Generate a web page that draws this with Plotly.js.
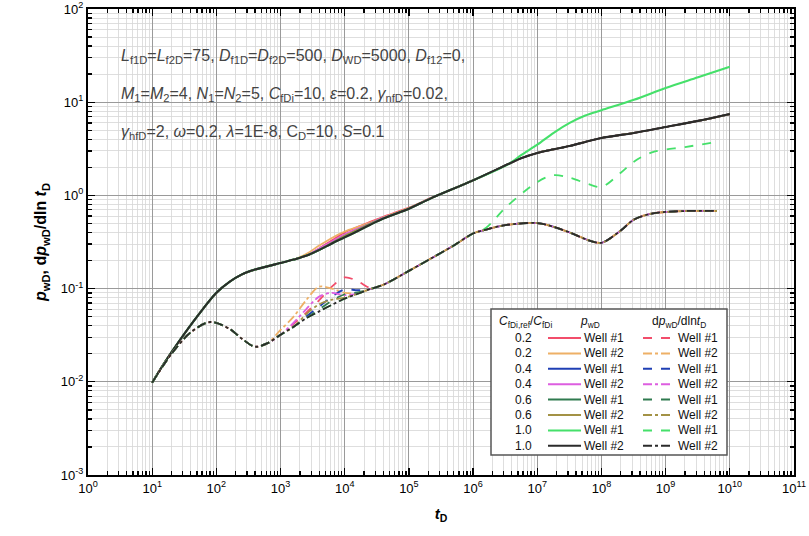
<!DOCTYPE html>
<html>
<head>
<meta charset="utf-8">
<script src="https://cdn.plot.ly/plotly-3.0.1.min.js"></script>
<style>
  html, body { margin: 0; padding: 0; background: #fff; }
  #chart { width: 809px; height: 536px; }
</style>
</head>
<body>
<div id="chart"></div>
<script>
// time grid for p_wD curves
const tP = [1e1, 1.6e1, 2.7e1, 5e1, 1e2, 1.6e2, 2.5e2, 4e2, 1e3, 1.6e3, 2.5e3, 4e3, 6.3e3, 1e4,
  1.6e4, 2.5e4, 4e4, 1e5, 2.2e5, 1e6, 3.7e6, 5.6e6, 1e7, 1.8e7, 3.2e7, 5.6e7, 1e8, 3.2e8, 1e9, 3.2e9, 1e10];

const p02w1 = [0.0098, 0.0165, 0.028, 0.05, 0.09, 0.118, 0.142, 0.16, 0.188, 0.205, 0.225, 0.27, 0.33, 0.40,
  0.46, 0.52, 0.59, 0.74, 0.94, 1.45, 2.2, 2.5, 2.85, 3.12, 3.39, 3.75, 4.13, 4.68, 5.42, 6.3, 7.46];
const p02w2 = [0.0098, 0.0165, 0.028, 0.05, 0.09, 0.118, 0.142, 0.16, 0.188, 0.205, 0.235, 0.29, 0.35, 0.41,
  0.46, 0.51, 0.58, 0.73, 0.93, 1.45, 2.2, 2.5, 2.85, 3.12, 3.39, 3.75, 4.13, 4.68, 5.42, 6.3, 7.46];
const p04w1 = [0.0098, 0.0165, 0.028, 0.05, 0.09, 0.118, 0.142, 0.16, 0.188, 0.205, 0.225, 0.26, 0.315, 0.375,
  0.435, 0.50, 0.57, 0.72, 0.93, 1.45, 2.2, 2.5, 2.85, 3.12, 3.39, 3.75, 4.13, 4.68, 5.42, 6.3, 7.46];
const p04w2 = [0.0098, 0.0165, 0.028, 0.05, 0.09, 0.118, 0.142, 0.16, 0.188, 0.205, 0.225, 0.27, 0.32, 0.38,
  0.44, 0.50, 0.575, 0.72, 0.93, 1.45, 2.2, 2.5, 2.85, 3.12, 3.39, 3.75, 4.13, 4.68, 5.42, 6.3, 7.46];
const p06w1 = [0.0098, 0.0165, 0.028, 0.05, 0.09, 0.118, 0.142, 0.16, 0.188, 0.205, 0.225, 0.26, 0.305, 0.365,
  0.425, 0.49, 0.565, 0.72, 0.93, 1.45, 2.2, 2.5, 2.85, 3.12, 3.39, 3.75, 4.13, 4.68, 5.42, 6.3, 7.46];
const p06w2 = [0.0098, 0.0165, 0.028, 0.05, 0.09, 0.118, 0.142, 0.16, 0.188, 0.205, 0.225, 0.26, 0.31, 0.37,
  0.43, 0.495, 0.565, 0.72, 0.93, 1.45, 2.2, 2.5, 2.85, 3.12, 3.39, 3.75, 4.13, 4.68, 5.42, 6.3, 7.46];
const p10w1 = [0.0098, 0.0165, 0.028, 0.05, 0.09, 0.118, 0.142, 0.16, 0.188, 0.205, 0.225, 0.26, 0.305, 0.355,
  0.415, 0.485, 0.565, 0.72, 0.93, 1.45, 2.2, 2.7, 3.5, 4.7, 6.0, 7.2, 8.2, 10.6, 14.2, 18.5, 24.0];
const p10w2 = [0.0098, 0.0165, 0.028, 0.05, 0.09, 0.118, 0.142, 0.16, 0.188, 0.205, 0.225, 0.26, 0.305, 0.355,
  0.415, 0.485, 0.565, 0.72, 0.93, 1.45, 2.2, 2.5, 2.85, 3.12, 3.39, 3.75, 4.13, 4.68, 5.42, 6.3, 7.46];

// time grid for derivative curves
const tD = [1e1, 2e1, 4e1, 8e1, 1.6e2, 2.5e2, 4e2, 6.3e2, 1e3, 1.6e3, 2.5e3, 4e3, 6.3e3, 1e4, 1.6e4, 2.5e4,
  4e4, 1e5, 2.2e5, 5e5, 1e6, 1.6e6, 3.2e6, 1e7, 1.8e7, 3.2e7, 6.3e7, 1e8, 2e8, 3.2e8, 6.3e8, 2e9, 6.3e9];

const d02w1 = [0.0098, 0.02, 0.034, 0.0438, 0.037, 0.029, 0.0238, 0.026, 0.032, 0.042, 0.055, 0.075, 0.105, 0.132,
  0.12, 0.102, 0.11, 0.155, 0.21, 0.29, 0.39, 0.43, 0.48, 0.505, 0.46, 0.40, 0.33, 0.31, 0.42, 0.55, 0.64, 0.68, 0.68];
const d02w2 = [0.0098, 0.02, 0.034, 0.0438, 0.037, 0.029, 0.0238, 0.026, 0.036, 0.05, 0.075, 0.105, 0.10, 0.09,
  0.09, 0.099, 0.11, 0.155, 0.21, 0.29, 0.39, 0.43, 0.48, 0.505, 0.46, 0.40, 0.33, 0.31, 0.42, 0.55, 0.64, 0.68, 0.68];
const d04w1 = [0.0098, 0.02, 0.034, 0.0438, 0.037, 0.029, 0.0238, 0.026, 0.032, 0.039, 0.05, 0.064, 0.082, 0.098,
  0.096, 0.099, 0.11, 0.155, 0.21, 0.29, 0.39, 0.43, 0.48, 0.505, 0.46, 0.40, 0.33, 0.31, 0.42, 0.55, 0.64, 0.68, 0.68];
const d04w2 = [0.0098, 0.02, 0.034, 0.0438, 0.037, 0.029, 0.0238, 0.026, 0.032, 0.043, 0.06, 0.082, 0.09, 0.085,
  0.089, 0.099, 0.11, 0.155, 0.21, 0.29, 0.39, 0.43, 0.48, 0.505, 0.46, 0.40, 0.33, 0.31, 0.42, 0.55, 0.64, 0.68, 0.68];
const d06w1 = [0.0098, 0.02, 0.034, 0.0438, 0.037, 0.029, 0.0238, 0.026, 0.032, 0.039, 0.048, 0.06, 0.074, 0.087,
  0.091, 0.099, 0.11, 0.155, 0.21, 0.29, 0.39, 0.43, 0.48, 0.505, 0.46, 0.40, 0.33, 0.31, 0.42, 0.55, 0.64, 0.68, 0.68];
const d06w2 = [0.0098, 0.02, 0.034, 0.0438, 0.037, 0.029, 0.0238, 0.026, 0.032, 0.039, 0.053, 0.068, 0.076, 0.08,
  0.088, 0.099, 0.11, 0.155, 0.21, 0.29, 0.39, 0.43, 0.48, 0.505, 0.46, 0.40, 0.33, 0.31, 0.42, 0.55, 0.64, 0.68, 0.68];
const d10w1 = [0.0098, 0.02, 0.034, 0.0438, 0.037, 0.029, 0.0238, 0.026, 0.032, 0.039, 0.048, 0.057, 0.067, 0.078,
  0.088, 0.099, 0.11, 0.155, 0.21, 0.29, 0.39, 0.45, 0.74, 1.39, 1.65, 1.55, 1.32, 1.23, 1.75, 2.3, 2.92, 3.3, 3.74];
const d10w2 = [0.0098, 0.02, 0.034, 0.0438, 0.037, 0.029, 0.0238, 0.026, 0.032, 0.039, 0.048, 0.057, 0.067, 0.078,
  0.088, 0.099, 0.11, 0.155, 0.21, 0.29, 0.39, 0.43, 0.48, 0.505, 0.46, 0.40, 0.33, 0.31, 0.42, 0.55, 0.64, 0.68, 0.68];

const ratios = ['0.2', '0.2', '0.4', '0.4', '0.6', '0.6', '1.0', '1.0'];
const wells = ['Well #1', 'Well #2', 'Well #1', 'Well #2', 'Well #1', 'Well #2', 'Well #1', 'Well #2'];
const colors = ['#f24d6b', '#eeb066', '#1f3fb4', '#dd5ee0', '#2f7a4f', '#a39245', '#45e06a', '#2b2b2b'];
const pSeries = [p02w1, p02w2, p04w1, p04w2, p06w1, p06w2, p10w1, p10w2];
const dSeries = [d02w1, d02w2, d04w1, d04w2, d06w1, d06w2, d10w1, d10w2];

const xTickVals = [1, 1e1, 1e2, 1e3, 1e4, 1e5, 1e6, 1e7, 1e8, 1e9, 1e10, 1e11];
const xTickText = ['10<sup>0</sup>', '10<sup>1</sup>', '10<sup>2</sup>', '10<sup>3</sup>', '10<sup>4</sup>',
  '10<sup>5</sup>', '10<sup>6</sup>', '10<sup>7</sup>', '10<sup>8</sup>', '10<sup>9</sup>',
  '10<sup>10</sup>', '10<sup>11</sup>'];
const yTickVals = [1e-3, 1e-2, 1e-1, 1, 1e1, 1e2];
const yTickText = ['10<sup>-3</sup>', '10<sup>-2</sup>', '10<sup>-1</sup>', '10<sup>0</sup>', '10<sup>1</sup>', '10<sup>2</sup>'];

const paramLines = [
  '<i>L</i><sub>f1D</sub>=<i>L</i><sub>f2D</sub>=75, <i>D</i><sub>f1D</sub>=<i>D</i><sub>f2D</sub>=500, <i>D</i><sub>WD</sub>=5000, <i>D</i><sub>f12</sub>=0,',
  '<i>M</i><sub>1</sub>=<i>M</i><sub>2</sub>=4, <i>N</i><sub>1</sub>=<i>N</i><sub>2</sub>=5, <i>C</i><sub>fDi</sub>=10, <i>ε</i>=0.2, <i>γ</i><sub>nfD</sub>=0.02,',
  '<i>γ</i><sub>hfD</sub>=2, <i>ω</i>=0.2, <i>λ</i>=1E-8, C<sub>D</sub>=10, <i>S</i>=0.1'
];

// plot area in pixels: x 88..794, y 9..475
const L = 88, R = 794, T = 9, B = 475;
const px = x => (x - L) / (R - L);
const py = y => (B - y) / (B - T);

const FONT = 'Liberation Sans, Arial, sans-serif';

const traces = [];
pSeries.forEach((ys, i) => {
  traces.push({
    x: tP, y: ys, type: 'scatter', mode: 'lines',
    line: { color: colors[i], width: i >= 6 ? 2.1 : 1.7, shape: 'spline', smoothing: 0.9 },
    showlegend: false, hoverinfo: 'skip'
  });
});
dSeries.forEach((ys, i) => {
  traces.push({
    x: tD, y: ys, type: 'scatter', mode: 'lines',
    line: { color: colors[i], width: 1.8, dash: i % 2 === 0 ? 'dash' : 'dashdot', shape: 'spline', smoothing: 0.9 },
    showlegend: false, hoverinfo: 'skip'
  });
});

// hand-made legend table (box, headers, samples, labels)
const shapes = [{
  type: 'rect', xref: 'paper', yref: 'paper', layer: 'above',
  x0: px(491), x1: px(727), y0: py(455), y1: py(309),
  fillcolor: '#ffffff', line: { color: '#555', width: 1.5 }
}];
const annotations = [];
const hdrY = 322;
[['<i>C</i><sub>fDi,ref</sub>/<i>C</i><sub>fDi</sub>', 525],
 ['<i>p</i><sub>wD</sub>', 590],
 ['d<i>p</i><sub>wD</sub>/dln<i>t</i><sub>D</sub>', 679]].forEach(h => {
  annotations.push({ xref: 'paper', yref: 'paper', x: px(h[1]), y: py(hdrY), text: h[0],
    showarrow: false, xanchor: 'center', yanchor: 'middle', font: { family: FONT, size: 12, color: '#111' } });
});
ratios.forEach((r, i) => {
  const yy = 338 + i * 15.4;
  annotations.push({ xref: 'paper', yref: 'paper', x: px(523), y: py(yy), text: r, showarrow: false,
    xanchor: 'center', yanchor: 'middle', font: { family: FONT, size: 12, color: '#111' } });
  shapes.push({ type: 'line', xref: 'paper', yref: 'paper', layer: 'above',
    x0: px(548), x1: px(581), y0: py(yy), y1: py(yy), line: { color: colors[i], width: 2 } });
  annotations.push({ xref: 'paper', yref: 'paper', x: px(582), y: py(yy), text: wells[i], showarrow: false,
    xanchor: 'left', yanchor: 'middle', font: { family: FONT, size: 12, color: '#111' } });
  shapes.push({ type: 'line', xref: 'paper', yref: 'paper', layer: 'above',
    x0: px(643), x1: px(673), y0: py(yy), y1: py(yy),
    line: { color: colors[i], width: 2, dash: i % 2 === 0 ? 'dash' : 'dashdot' } });
  annotations.push({ xref: 'paper', yref: 'paper', x: px(676), y: py(yy), text: wells[i], showarrow: false,
    xanchor: 'left', yanchor: 'middle', font: { family: FONT, size: 12, color: '#111' } });
});

// parameter text block
[57, 95, 132].forEach((yy, i) => {
  annotations.push({ xref: 'paper', yref: 'paper', x: px(119), y: py(yy), text: paramLines[i],
    showarrow: false, xanchor: 'left', yanchor: 'middle', font: { family: FONT, size: 16, color: '#444' } });
});

const axisCommon = {
  type: 'log', tickmode: 'array', ticks: 'inside', ticklen: 7, tickwidth: 1.3, tickcolor: '#000',
  showline: true, linecolor: '#000', linewidth: 2, mirror: 'allticks',
  showgrid: true, gridcolor: '#9a9a9a', gridwidth: 1, zeroline: false,
  tickfont: { family: FONT, size: 13, color: '#000' },
  minor: { ticks: 'inside', ticklen: 4, tickcolor: '#000', dtick: 'D1', showgrid: true, gridcolor: '#d6d6d6', gridwidth: 0.8 }
};

const layout = {
  width: 809, height: 536,
  margin: { l: L, r: 809 - R, t: T, b: 536 - B },
  paper_bgcolor: '#fff', plot_bgcolor: '#fff',
  showlegend: false,
  xaxis: Object.assign({}, axisCommon, {
    range: [0, 11], tickvals: xTickVals, ticktext: xTickText,
    title: { text: '<b><i>t</i><sub>D</sub></b>', font: { family: FONT, size: 15, color: '#000' }, standoff: 14 }
  }),
  yaxis: Object.assign({}, axisCommon, {
    range: [-3, 2], tickvals: yTickVals, ticktext: yTickText,
    title: { text: '<b><i>p</i><sub>wD</sub>, d<i>p</i><sub>wD</sub>/dln <i>t</i><sub>D</sub></b>',
      font: { family: FONT, size: 16, color: '#000' }, standoff: 10 }
  }),
  shapes: shapes,
  annotations: annotations
};

Plotly.newPlot('chart', traces, layout, { staticPlot: true, displayModeBar: false });
</script>
</body>
</html>
